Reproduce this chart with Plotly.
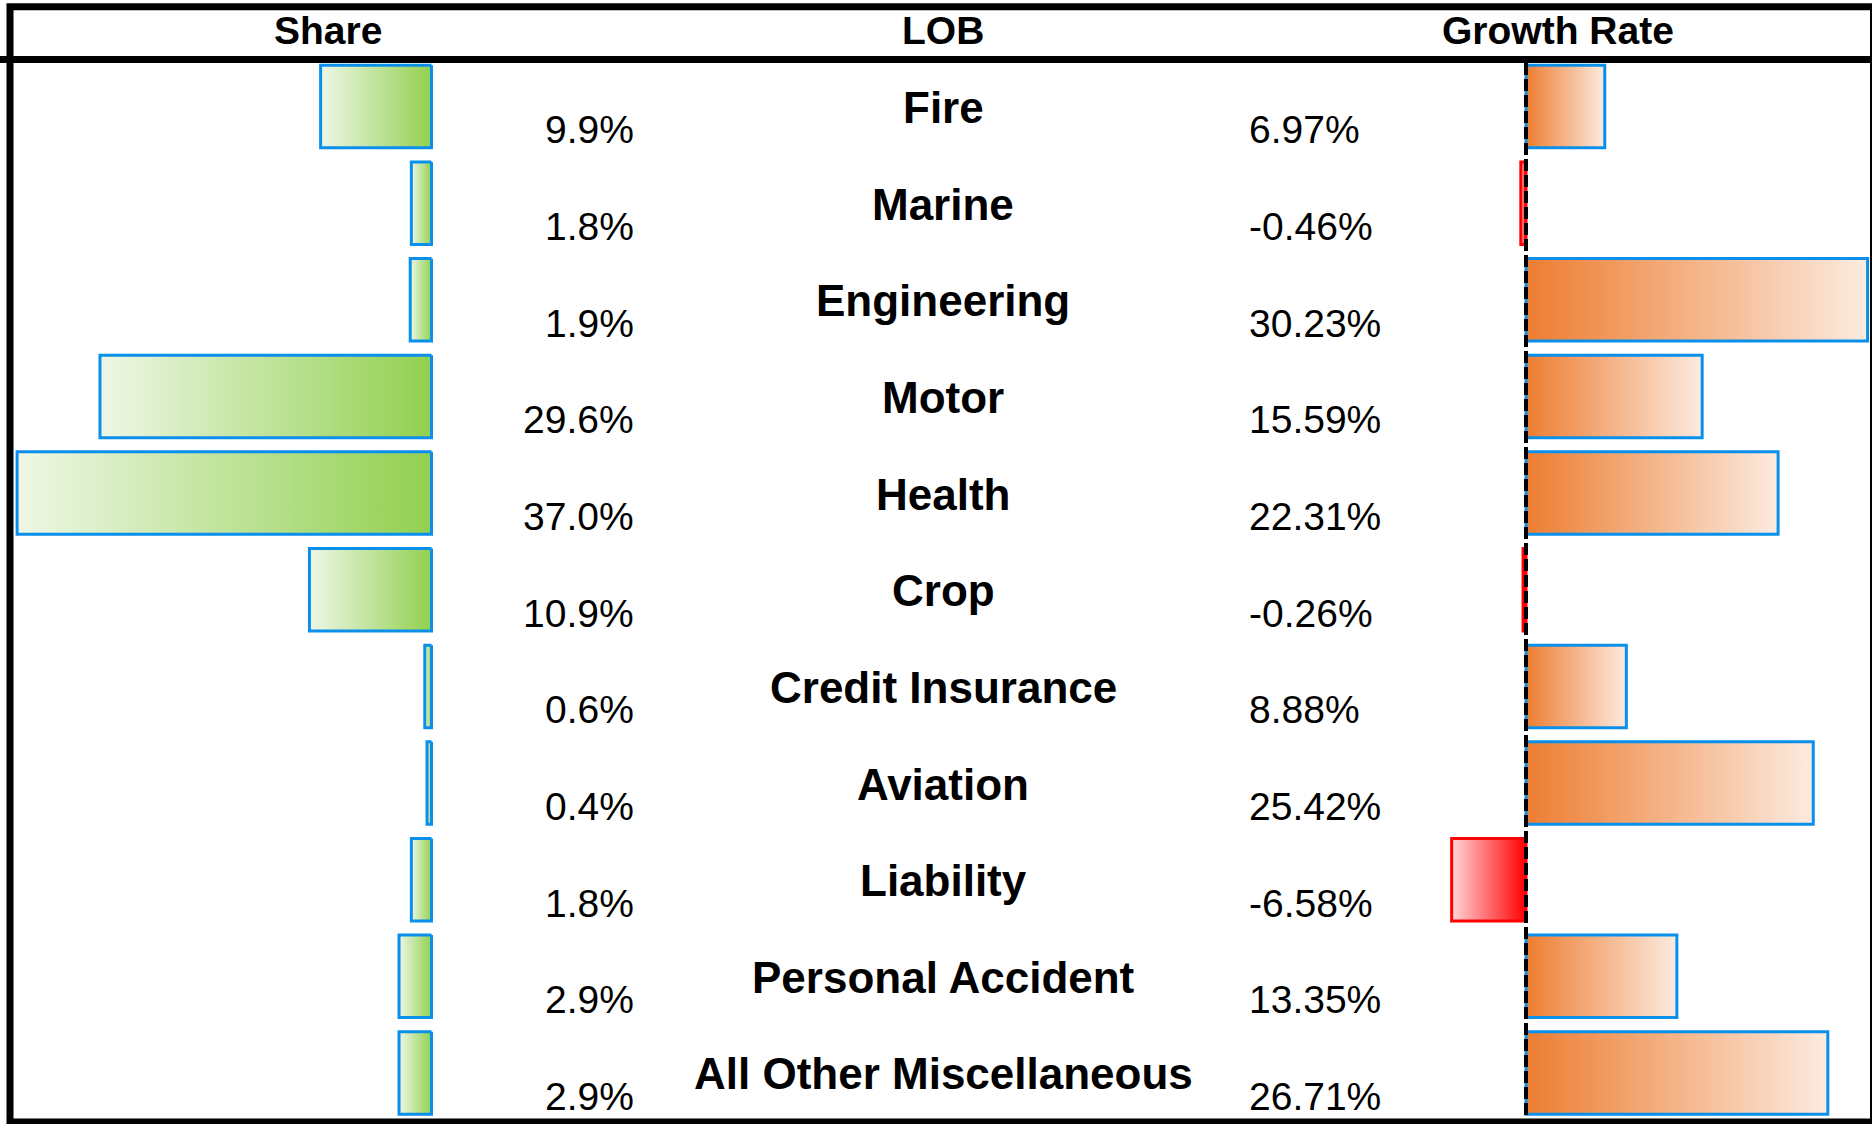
import plotly.graph_objects as go

# ---------------- data ----------------
lobs = ["Fire", "Marine", "Engineering", "Motor", "Health", "Crop",
        "Credit Insurance", "Aviation", "Liability", "Personal Accident",
        "All Other Miscellaneous"]
share = [9.9, 1.8, 1.9, 29.6, 37.0, 10.9, 0.6, 0.4, 1.8, 2.9, 2.9]
growth = [6.97, -0.46, 30.23, 15.59, 22.31, -0.26, 8.88, 25.42, -6.58, 13.35, 26.71]
headers = ["Share", "LOB", "Growth Rate"]

# ---------------- styling ----------------
W, H = 1872, 1124
FONT = "Liberation Sans, Arial, sans-serif"
BLUE = "#0A8FEB"
GREEN_D, GREEN_L = "#92D050", "#EEF7E6"
ORANGE_D, ORANGE_L = "#ED7D31", "#FCEBE0"
RED_D, RED_L = "#FF0000", "#FFD6DA"
SHARE_PX = 11.2
GROWTH_PX = 11.3
SHARE_ZERO = 431.5
GROWTH_ZERO = 1526.0
ROW0, PITCH = 106.5, 96.65
HALF = 0.427

fig = go.Figure()

def bar(v, i, axis, dark, light, border):
    xs = [0, v, v, 0, 0]
    ys = [i - HALF, i - HALF, i + HALF, i + HALF, i - HALF]
    fig.add_trace(go.Scatter(
        x=xs, y=ys, xaxis=axis, yaxis="y", mode="lines",
        fill="toself",
        fillgradient=dict(type="horizontal",
                          colorscale=[[0, dark], [1, light]],
                          start=0, stop=v),
        line=dict(color=border, width=3),
        hoverinfo="skip", showlegend=False))

for i, v in enumerate(share):
    bar(v, i, "x", GREEN_D, GREEN_L, BLUE)
for i, v in enumerate(growth):
    if v >= 0:
        bar(v, i, "x2", ORANGE_D, ORANGE_L, BLUE)
    else:
        bar(v, i, "x2", RED_D, RED_L, RED_D)

# axes
sh_dom_r = 440
fig.update_layout(
    xaxis=dict(domain=[0, sh_dom_r / W],
               range=[SHARE_ZERO / SHARE_PX, (SHARE_ZERO - sh_dom_r) / SHARE_PX],
               visible=False, fixedrange=True),
    xaxis2=dict(domain=[1440 / W, 1], anchor="y",
                range=[(1440 - GROWTH_ZERO) / GROWTH_PX, (W - GROWTH_ZERO) / GROWTH_PX],
                visible=False, fixedrange=True),
    yaxis=dict(domain=[0, 1],
               range=[(H - ROW0) / PITCH, -ROW0 / PITCH],
               visible=False, fixedrange=True),
)

ann = []
for txt, xc in zip(headers, [328, 943, 1558]):
    ann.append(dict(text=f"<b>{txt}</b>", x=xc / W, y=1 - 31 / H, xref="paper", yref="paper",
                    xanchor="center", yanchor="middle", showarrow=False,
                    font=dict(family=FONT, size=39, color="black")))
for i, name in enumerate(lobs):
    ann.append(dict(text=f"<b>{name}</b>", x=943 / W, y=i + 0.01, xref="paper", yref="y",
                    xanchor="center", yanchor="middle", showarrow=False,
                    font=dict(family=FONT, size=44, color="black")))
for i, v in enumerate(share):
    ann.append(dict(text=f"{v:.1f}%", x=636 / W, y=i + 0.243, xref="paper", yref="y",
                    xanchor="right", yanchor="middle", showarrow=False,
                    font=dict(family=FONT, size=39, color="black")))
for i, v in enumerate(growth):
    ann.append(dict(text=f"{v:.2f}%", x=1247 / W, y=i + 0.243, xref="paper", yref="y",
                    xanchor="left", yanchor="middle", showarrow=False,
                    font=dict(family=FONT, size=39, color="black")))

shapes = [
    dict(type="rect", xref="paper", yref="paper",
         x0=10 / W, x1=(W + 1.5) / W, y0=1 - 6.7 / H, y1=1 - 1122 / H,
         line=dict(color="black", width=7), fillcolor="rgba(0,0,0,0)", layer="above"),
    dict(type="line", xref="paper", yref="paper",
         x0=0, x1=1, y0=1 - 59.5 / H, y1=1 - 59.5 / H,
         line=dict(color="black", width=7), layer="above"),
    dict(type="line", xref="x2", yref="paper", x0=0, x1=0,
         y0=1 - 63 / H, y1=1 - 1120 / H,
         line=dict(color="black", width=4, dash="12px,4px"), layer="above"),
]

fig.update_layout(
    width=W, height=H, margin=dict(l=0, r=0, t=0, b=0),
    paper_bgcolor="white", plot_bgcolor="white",
    annotations=ann, shapes=shapes, showlegend=False,
)

fig.write_html("out.html", config={"displayModeBar": False},
               post_script="document.body.style.margin='0';document.body.style.overflow='hidden';")
